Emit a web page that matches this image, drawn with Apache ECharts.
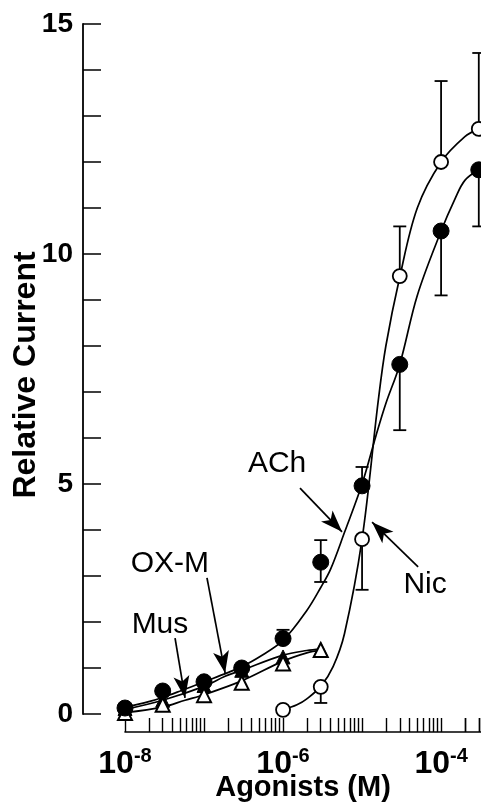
<!DOCTYPE html>
<html><head><meta charset="utf-8">
<script src="https://cdn.jsdelivr.net/npm/echarts@6/dist/echarts.min.js"></script>
<style>html,body{margin:0;padding:0;background:#fff}#c{width:481px;height:804px}</style>
</head><body><div id="c"></div>
<script>
// ---- data ----
const conc = [1e-8, 3e-8, 1e-7, 3e-7, 1e-6, 3e-6, 1e-5, 3e-5, 1e-4, 3e-4];
const achVals = [0.13, 0.5, 0.70, 1.0, 1.64, 3.3, 4.96, 7.6, 10.5, 11.83];
const achErrLow = [null, null, null, null, null, 2.87, null, 6.17, 9.1, 10.6];
const achErrHigh = [null, null, null, null, 1.83, 3.78, 5.37, null, null, null];

const nicConc = [1e-6, 3e-6, 1e-5, 3e-5, 1e-4, 3e-4];
const nicVals = [0.09, 0.59, 3.8, 9.52, 12.0, 12.72];
const nicErrLow = [null, 0.24, 2.7, null, null, null];
const nicErrHigh = [null, null, null, 10.6, 13.76, 14.37];

const mConc = [1e-8, 3e-8, 1e-7, 3e-7, 1e-6, 3e-6];
const oxmVals = [0.12, 0.3, 0.62, 0.95, 1.24, 1.4];
const musVals = [0.02, 0.2, 0.41, 0.68, 1.1, 1.39];

// fitted curves
const achCurveX = [1e-8, 2e-8, 3e-8, 5e-8, 1e-7, 2e-7, 3e-7, 5e-7, 1e-6, 2e-6, 3e-6, 4e-6, 6e-6, 1e-5, 1.5e-5, 2e-5, 3e-5, 5e-5, 1e-4, 1.5e-4, 2e-4, 3e-4];
const achCurveY = [0.15, 0.27, 0.36, 0.5, 0.7, 0.9, 1.03, 1.24, 1.6, 2.25, 2.75, 3.15, 3.95, 5.0, 6.05, 6.75, 7.6, 9.1, 10.5, 11.2, 11.6, 11.83];
const nicCurveX = [1e-6, 1.5e-6, 2e-6, 3e-6, 4.3e-6, 6e-6, 1e-5, 1.6e-5, 2e-5, 3e-5, 5e-5, 1e-4, 2e-4, 3e-4];
const nicCurveY = [0.09, 0.2, 0.33, 0.6, 1.03, 1.75, 3.8, 6.8, 8.0, 9.5, 11.0, 12.0, 12.55, 12.72];
const oxmCurveX = [1e-8, 3e-8, 1e-7, 1.85e-7, 3e-7, 1e-6, 2e-6, 3e-6];
const oxmCurveY = [0.1, 0.3, 0.6, 0.82, 0.95, 1.28, 1.38, 1.41];
const musCurveX = [1e-8, 3e-8, 5.75e-8, 1e-7, 3e-7, 1e-6, 2e-6, 3e-6];
const musCurveY = [0.03, 0.15, 0.3, 0.42, 0.72, 1.15, 1.33, 1.39];

// axis ticks
const xMajorTicks = [1e-8, 1e-7, 1e-6, 1e-5, 1e-4];
const xMinorMult = [1, 2, 3, 4, 5, 6, 7, 8, 9];
const xLabelTicks = [1e-8, 1e-6, 1e-4];
const yLabelTicks = [0, 5, 10, 15];

// annotations
const annoNames = ['ACh', 'Nic', 'OX-M', 'Mus'];
const annoLabelPos = [[8.4e-7, 5.43], [6.27e-5, 2.8], [3.7e-8, 3.26], [2.77e-8, 1.93]];
const annoArrowFrom = [[1.64e-6, 4.91], [5.12e-5, 3.2], [1.09e-7, 2.96], [4.3e-8, 1.65]];
const annoArrowTo = [[5.58e-6, 3.96], [1.34e-5, 4.17], [1.85e-7, 0.89], [5.75e-8, 0.35]];

// ---- build ----
const FONT = '"Liberation Sans", Arial, Helvetica, sans-serif';
const xTickVals = [];
xMajorTicks.forEach(d => xMinorMult.forEach(m => xTickVals.push(+(d * m).toPrecision(3))));
xTickVals.push(1e-4 * 2, 1e-4 * 3);

const zip = (xs, ys) => xs.map((x, i) => [x, ys[i]]);
function errData(xs, vals, lo, hi) {
  const out = [];
  xs.forEach((x, i) => {
    if (lo[i] == null && hi[i] == null) return;
    out.push([x, lo[i] == null ? vals[i] : lo[i], hi[i] == null ? vals[i] : hi[i], lo[i] == null ? 0 : 1, hi[i] == null ? 0 : 1]);
  });
  return out;
}
const errAll = errData(conc, achVals, achErrLow, achErrHigh).concat(errData(nicConc, nicVals, nicErrLow, nicErrHigh));

function curve(name, xs, ys) {
  return { name, type: 'line', data: zip(xs, ys), smooth: 0.35, symbol: 'none', z: 2,
    lineStyle: { color: '#000', width: 1.7, opacity: 1 }, silent: true };
}

const chart = echarts.init(document.getElementById('c'), null, { renderer: 'canvas' });
chart.setOption({
  backgroundColor: '#fff',
  animation: false,
  grid: { left: 125, right: 0, top: 24, bottom: 90, containLabel: false, outerBoundsMode: 'none' },
  xAxis: {
    type: 'log', logBase: 10, min: 1e-8, max: 3.2e-4, offset: 18,
    axisLine: { show: true, onZero: false, lineStyle: { color: '#000', width: 1.6 } },
    axisTick: { show: true, inside: true, length: 14, customValues: xTickVals, lineStyle: { color: '#000', width: 1.4 } },
    minorTick: { show: false },
    splitLine: { show: false },
    axisLabel: {
      customValues: xLabelTicks, margin: 14, color: '#000',
      formatter: v => '{b|10}{s|' + Math.round(Math.log10(v)) + '}',
      rich: {
        b: { fontFamily: FONT, fontWeight: 'bold', fontSize: 32, lineHeight: 34, verticalAlign: 'bottom', color: '#000' },
        s: { fontFamily: FONT, fontWeight: 'bold', fontSize: 20, lineHeight: 12, verticalAlign: 'top', color: '#000' }
      }
    },
    name: 'Agonists (M)', nameLocation: 'middle', nameGap: 41, nameMoveOverlap: false,
    nameTextStyle: { fontFamily: FONT, fontWeight: 'bold', fontSize: 29, color: '#000' }
  },
  yAxis: {
    type: 'value', min: 0, max: 15, interval: 1, offset: 42,
    axisLine: { show: true, lineStyle: { color: '#000', width: 1.8 } },
    axisTick: { show: true, inside: true, length: 18, lineStyle: { color: '#000', width: 1.5 } },
    splitLine: { show: false },
    axisLabel: {
      customValues: yLabelTicks, margin: 10, color: '#000',
      fontFamily: FONT, fontWeight: 'bold', fontSize: 28
    },
    name: 'Relative Current', nameLocation: 'middle', nameGap: 41, nameMoveOverlap: false,
    nameTextStyle: { fontFamily: FONT, fontWeight: 'bold', fontSize: 32, color: '#000', padding: [0, 12, 0, 0] }
  },
  series: [
    curve('ACh fit', achCurveX, achCurveY),
    curve('Nic fit', nicCurveX, nicCurveY),
    curve('OX-M fit', oxmCurveX, oxmCurveY),
    curve('Mus fit', musCurveX, musCurveY),
    {
      name: 'errors', type: 'custom', z: 3, silent: true, clip: false,
      data: errAll,
      renderItem: (params, api) => {
        const x = api.value(0);
        const p1 = api.coord([x, api.value(1)]);
        const p2 = api.coord([x, api.value(2)]);
        const st = { stroke: '#000', lineWidth: 1.8, opacity: 1 };
        const ch = [{ type: 'line', shape: { x1: p1[0], y1: p1[1], x2: p2[0], y2: p2[1] }, style: st }];
        const hw = 6.5;
        if (api.value(3)) ch.push({ type: 'line', shape: { x1: p1[0] - hw, y1: p1[1], x2: p1[0] + hw, y2: p1[1] }, style: st });
        if (api.value(4)) ch.push({ type: 'line', shape: { x1: p2[0] - hw, y1: p2[1], x2: p2[0] + hw, y2: p2[1] }, style: st });
        return { type: 'group', children: ch };
      }
    },
    { name: 'OX-M', type: 'scatter', data: zip(mConc, oxmVals), symbol: 'triangle', symbolSize: 14, z: 4, clip: false,
      itemStyle: { color: '#000', borderColor: '#000', borderWidth: 1, opacity: 1 } },
    { name: 'Mus', type: 'scatter', data: zip(mConc, musVals), symbol: 'triangle', symbolSize: 14, z: 5, clip: false,
      itemStyle: { color: '#fff', borderColor: '#000', borderWidth: 2, opacity: 1 } },
    { name: 'ACh', type: 'scatter', data: zip(conc, achVals), symbol: 'circle', symbolSize: 16, z: 6, clip: false,
      itemStyle: { color: '#000', borderColor: '#000', borderWidth: 1, opacity: 1 } },
    { name: 'Nic', type: 'scatter', data: zip(nicConc, nicVals), symbol: 'circle', symbolSize: 14, z: 6, clip: false,
      itemStyle: { color: '#fff', borderColor: '#000', borderWidth: 1.8, opacity: 1 } },
    {
      name: 'labels', type: 'scatter', z: 7, silent: true, symbolSize: 0, clip: false,
      itemStyle: { opacity: 1 },
      data: annoNames.map((n, i) => ({ value: [annoLabelPos[i][0], annoLabelPos[i][1]], name: n })),
      label: { show: true, position: 'inside', formatter: p => p.name, fontFamily: FONT, fontSize: 30, color: '#000', opacity: 1 },
      markLine: {
        silent: true, animation: false, precision: 10,
        label: { show: false },
        lineStyle: { color: '#000', width: 1.7, type: 'solid', opacity: 1 },
        symbol: ['none', 'arrow'], symbolSize: [0, 20],
        data: annoNames.map((n, i) => [
          { coord: annoArrowFrom[i], symbol: 'none' },
          { coord: annoArrowTo[i], symbol: 'arrow', symbolSize: [12, 22] }
        ])
      }
    }
  ]
});
</script></body></html>
